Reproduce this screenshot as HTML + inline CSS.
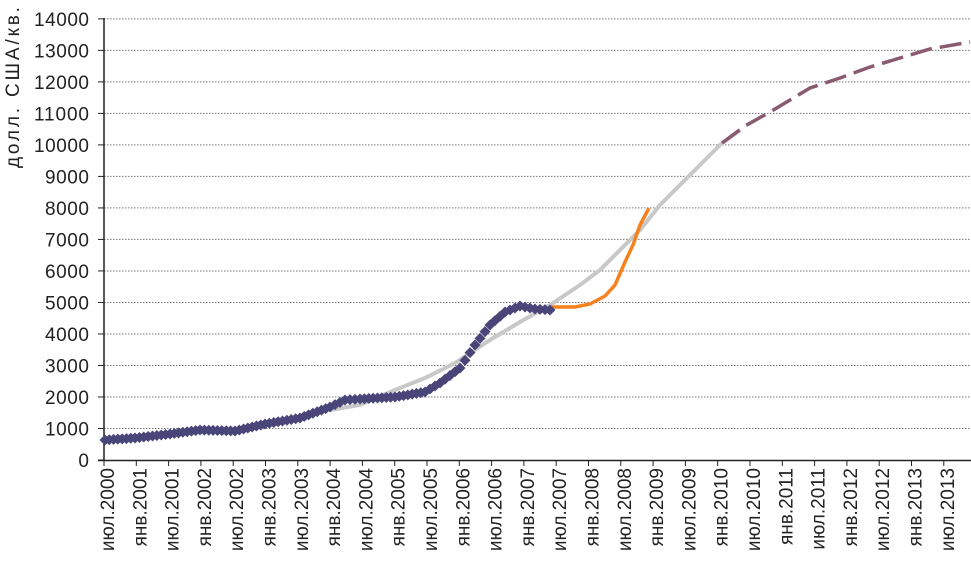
<!DOCTYPE html><html><head><meta charset="utf-8"><style>body{margin:0;background:#fff}svg{display:block;font-family:"Liberation Sans",sans-serif}</style></head><body>
<svg id="s" width="971" height="564" xmlns="http://www.w3.org/2000/svg">
<text transform="translate(19,168) rotate(-90)" font-size="19" fill="#222" textLength="185">долл. США/кв. м</text>
</svg>
<script>
const s=document.getElementById('s');let h='';
const Y=v=>460-v*0.03151;
for(let v=0;v<=14000;v+=1000){const y=Y(v);
 if(v>0)h+=`<line x1="104" x2="971" y1="${y}" y2="${y}" stroke="#777" stroke-width="1" stroke-dasharray="1.5,1.5"/>`;
 h+=`<line x1="98" x2="104" y1="${y}" y2="${y}" stroke="#222"/>`;
 h+=`<text x="89" y="${y+7}" font-size="19" text-anchor="end" fill="#222" textLength="${String(v).length*11}">${v}</text>`;}
h+=`<line x1="104" x2="104" y1="18" y2="461" stroke="#222" stroke-width="1.5"/><line x1="98" x2="971" y1="460.5" y2="460.5" stroke="#222" stroke-width="1.5"/>`;
const L=[];for(let yr=2000;yr<=2013;yr++){if(yr>2000)L.push('янв.'+yr);L.push('июл.'+yr);}
L.forEach((t,i)=>{const x=104+i*32.3;h+=`<line x1="${x}" x2="${x}" y1="460" y2="466" stroke="#222"/>`;
 h+=`<text transform="translate(${x+10},468) rotate(-90)" font-size="19" text-anchor="end" fill="#222">${t}</text>`;});
const P=a=>a.map(p=>p.join(',')).join(' ');
const gray=[[330,410],[360,405],[395,390],[425,378],[455,363],[490,340],[520,322],[550,305],[580,285],[600,270],[620,250],[640,230],[660,205],[690,175],[720,145],[740,130]];
h+=`<polyline points="${P(gray)}" fill="none" stroke="#c8c8c8" stroke-width="4"/>`;
const org=[[550,307],[575,307],[590,304],[605,296],[615,285],[625,262],[633,245],[640,225],[649,208]];
h+=`<polyline points="${P(org)}" fill="none" stroke="#f5821f" stroke-width="3.5"/>`;
const dash=[[722,143],[745,126],[770,112],[790,100],[810,88],[840,78],[870,67],[900,58],[930,49],[970,42]];
h+=`<polyline points="${P(dash)}" fill="none" stroke="#8a5a70" stroke-width="3.5" stroke-dasharray="22,8"/>`;
const dk=[[105,440],[135,438],[170,434],[200,430],[235,431],[265,424],[300,418],[330,407],[345,400],[360,399],[395,397],[425,392],[440,383],[460,368],[475,345],[490,325],[505,312],[520,306],[535,309],[550,310]];
for(let i=0;i<dk.length-1;i++){const[a,b]=[dk[i],dk[i+1]];const n=Math.max(1,Math.round((b[0]-a[0])/4.5));
 for(let k=0;k<n;k++){const t=k/n,x=a[0]+(b[0]-a[0])*t,y=a[1]+(b[1]-a[1])*t;
  h+=`<polygon points="${x},${y-5.5} ${x+5.5},${y} ${x},${y+5.5} ${x-5.5},${y}" fill="#4a4579"/>`;}}
h+=`<polygon points="550,304.5 555.5,310 550,315.5 544.5,310" fill="#4a4579"/>`;
s.insertAdjacentHTML('beforeend',h);
</script></body></html>
